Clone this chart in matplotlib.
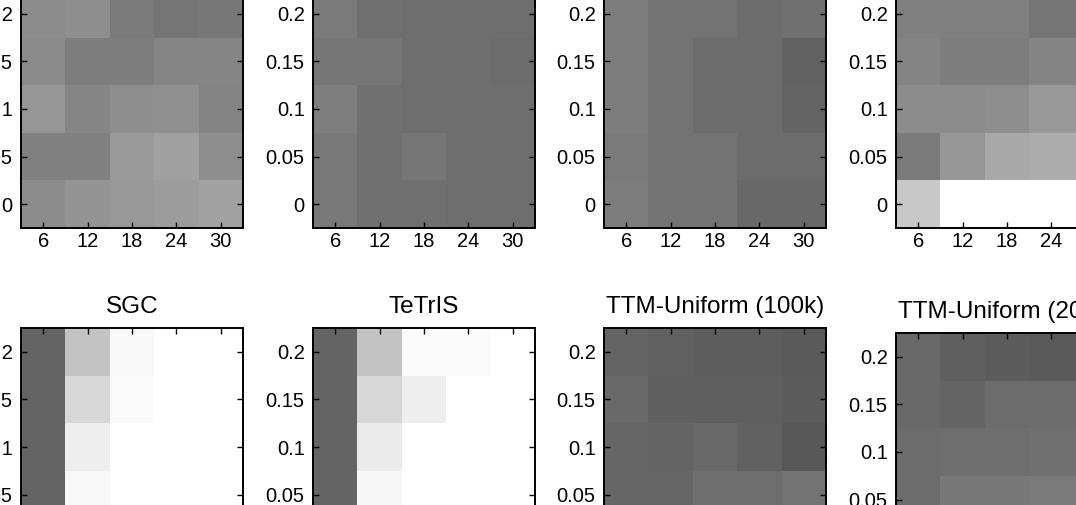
import numpy as np
import matplotlib
matplotlib.use('Agg')
import matplotlib.pyplot as plt

# grid values (grey level 0..255), rows = y from low to high, cols = x
x_vals = [6, 12, 18, 24, 30]
y_top = [0, 0.05, 0.1, 0.15, 0.2]
y_bottom = [0.05, 0.1, 0.15, 0.2]

top_a = [[140, 148, 152, 156, 162],
         [128, 128, 154, 160, 142],
         [150, 134, 142, 143, 132],
         [138, 125, 125, 133, 133],
         [140, 142, 122, 117, 120]]
top_b = [[121, 112, 112, 110, 110],
         [121, 112, 118, 110, 110],
         [126, 112, 110, 110, 110],
         [118, 118, 110, 110, 108],
         [122, 112, 110, 110, 110]]
top_c = [[125, 115, 115, 104, 104],
         [122, 115, 115, 108, 108],
         [125, 115, 108, 108, 100],
         [125, 115, 108, 108, 98],
         [125, 115, 115, 108, 112]]
top_d = [[200, 255, 255, 255, 255],
         [122, 150, 168, 172, 172],
         [140, 140, 142, 152, 150],
         [132, 125, 125, 132, 132],
         [128, 128, 128, 118, 118]]

sgc = [[100, 248, 255, 255, 255],
       [100, 238, 255, 255, 255],
       [100, 215, 250, 255, 255],
       [100, 195, 248, 255, 255]]
tetris = [[100, 247, 255, 255, 255],
          [100, 235, 255, 255, 255],
          [100, 215, 238, 255, 255],
          [100, 195, 250, 250, 255]]
ttm_100k = [[102, 102, 110, 110, 115],
            [102, 100, 105, 97, 88],
            [105, 95, 95, 95, 92],
            [100, 97, 93, 93, 90]]
ttm_200k = [[108, 120, 120, 122, 122],
            [108, 110, 110, 112, 112],
            [105, 100, 108, 108, 108],
            [105, 95, 92, 90, 90]]

bottom_titles = ['SGC', 'TeTrIS', 'TTM-Uniform (100k)', 'TTM-Uniform (200k)']

plt.rcParams['font.family'] = ['Liberation Sans', 'DejaVu Sans']

W, H = 1076, 505
fig = plt.figure(figsize=(W / 100, H / 100), dpi=100)

lefts = [21, 313, 604, 896]
aw, ah = 222, 238


def add_panel(left, top, Z, ys, title=None):
    ax = fig.add_axes([left / W, 1 - (top + ah) / H, aw / W, ah / H])
    ax.pcolormesh(x_vals, ys, np.array(Z) / 255.0, cmap='gray', vmin=0, vmax=1,
                  shading='nearest')
    ax.set_xlim(3, 33)
    ax.set_ylim(-0.025, 0.225)
    ax.set_xticks(x_vals)
    ax.set_yticks([0, 0.05, 0.1, 0.15, 0.2])
    ax.set_yticklabels(['0', '0.05', '0.1', '0.15', '0.2'])
    ax.tick_params(direction='in', top=True, right=True, length=4, width=1,
                   labelsize=14.5)
    ax.tick_params(axis='x', pad=3)
    ax.tick_params(axis='y', pad=6)
    for s in ax.spines.values():
        s.set_linewidth(1.4)
    if title:
        ax.set_title(title, fontsize=17.5, pad=11)
    return ax


for left, Z in zip(lefts, [top_a, top_b, top_c, top_d]):
    add_panel(left, -10, Z, y_top)

bottom_tops = [328, 328, 328, 333]
for left, t, Z, title in zip(lefts, bottom_tops, [sgc, tetris, ttm_100k, ttm_200k],
                             bottom_titles):
    add_panel(left, t, Z, y_bottom, title)

fig.savefig('out.png', dpi=100)
